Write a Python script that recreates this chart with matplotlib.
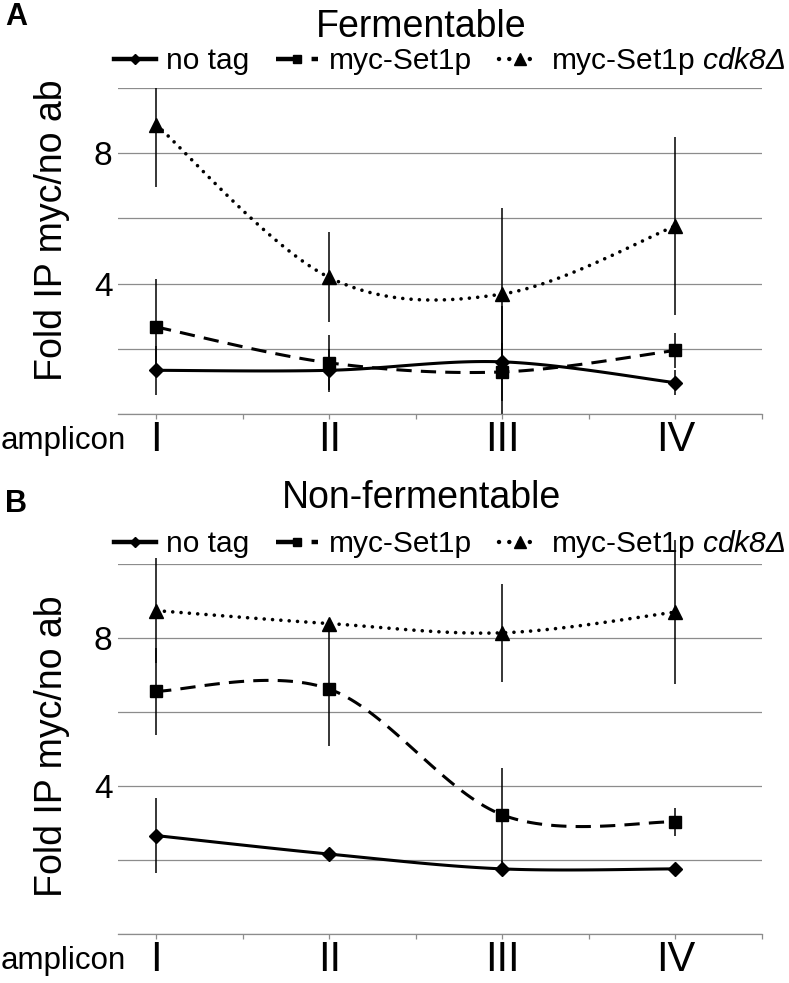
import numpy as np
import matplotlib
matplotlib.use('Agg')
import matplotlib.pyplot as plt
from matplotlib.lines import Line2D

# ---- data ----
amplicons = ['I', 'II', 'III', 'IV']

# A: fermentable
notag_A = [1.34, 1.34, 1.60, 0.96]
notag_A_err = [0.76, 0.66, 1.70, 0.38]
myc_A = [2.67, 1.57, 1.29, 1.95]
myc_A_err = [1.46, 0.84, 0.90, 0.53]
cdk8_A = [8.88, 4.19, 3.68, 5.77]
cdk8_A_err = [1.91, 1.38, 2.65, 2.72]

# B: non-fermentable
notag_B = [2.66, 2.16, 1.76, 1.76]
notag_B_err = [1.02, 0.08, 0.20, 0.05]
myc_B = [6.56, 6.62, 3.22, 3.03]
myc_B_err = [1.17, 1.55, 1.27, 0.38]
cdk8_B = [8.74, 8.39, 8.14, 8.70]
cdk8_B_err = [1.42, 0.10, 1.32, 1.95]

plt.rcParams['font.family'] = ['Liberation Sans', 'DejaVu Sans']
# math part of the legend label is the italic gene name
plt.rcParams['mathtext.fontset'] = 'custom'
plt.rcParams['mathtext.it'] = 'Liberation Sans:italic'
plt.rcParams['mathtext.rm'] = 'Liberation Sans:italic'

W, H = 789, 983
fig = plt.figure(figsize=(W / 100, H / 100), dpi=100)

GRID = '#8c8c8c'
styles = {
    'notag': dict(ls='-', marker='D', ms=7, lw=2.2),
    'myc': dict(ls=(0, (5, 3)), marker='s', ms=8, lw=2.2),
    'cdk8': dict(ls=(0, (0.01, 2.3)), marker='^', ms=10, lw=2.6),
}


def smooth(y, n=40):
    # excel-style smoothed line (bezier through the points)
    pts = np.column_stack([np.arange(len(y)), y]).astype(float)
    out = []
    t = np.linspace(0, 1, n)[:, None]
    for i in range(len(pts) - 1):
        p0 = pts[max(i - 1, 0)]
        p1 = pts[i]
        p2 = pts[i + 1]
        p3 = pts[min(i + 2, len(pts) - 1)]
        c1 = p1 + (p2 - p0) / 6
        c2 = p2 - (p3 - p1) / 6
        seg = (1 - t) ** 3 * p1 + 3 * (1 - t) ** 2 * t * c1 + 3 * (1 - t) * t ** 2 * c2 + t ** 3 * p2
        out.append(seg if i == 0 else seg[1:])
    return np.vstack(out)


def panel(rect, series, clip):
    ax = fig.add_axes(rect)
    x = np.arange(len(amplicons))
    for key, y, err in series:
        st = styles[key]
        ax.errorbar(x, y, yerr=err, fmt='none', ecolor='black', elinewidth=1.1,
                    capsize=0, zorder=2, clip_on=clip)
        s = smooth(y)
        ln, = ax.plot(s[:, 0], s[:, 1], color='black', lw=st['lw'], ls=st['ls'], zorder=3)
        if key == 'cdk8':
            ln.set_dash_capstyle('round')
        ax.plot(x, y, ls='none', marker=st['marker'], ms=st['ms'], color='black', zorder=4,
                clip_on=False)
    ax.set_xlim(-0.22, 3.5)
    ax.set_ylim(0, 10)
    ax.set_yticks([0, 2, 4, 6, 8, 10])
    ax.set_yticklabels(['', '', '4', '', '8', ''], fontsize=24)
    ax.yaxis.grid(True, color=GRID, lw=0.9)
    ax.tick_params(axis='y', length=0, pad=4)
    ax.set_xticks(x)
    ax.set_xticklabels(amplicons, fontsize=30)
    ax.set_xticks(np.arange(0.5, 4, 1), minor=True)
    ax.tick_params(axis='x', which='both', length=3.5, color=GRID, width=0.9, pad=1)
    for s in ['left', 'right', 'top']:
        ax.spines[s].set_visible(False)
    ax.spines['bottom'].set_color(GRID)
    ax.spines['bottom'].set_linewidth(0.9)
    ax.set_axisbelow(True)
    return ax


axA = panel([118 / W, 1 - 414 / H, 644 / W, 326 / H],
            [('notag', notag_A, notag_A_err), ('myc', myc_A, myc_A_err),
             ('cdk8', cdk8_A, cdk8_A_err)], True)
axB = panel([118 / W, 1 - 934 / H, 644 / W, 370 / H],
            [('notag', notag_B, notag_B_err), ('myc', myc_B, myc_B_err),
             ('cdk8', cdk8_B, cdk8_B_err)], False)

labels = ['no tag', 'myc-Set1p', r'myc-Set1p $cdk8\Delta$']


def legend_handles():
    hs = []
    for key in ['notag', 'myc', 'cdk8']:
        st = styles[key]
        h = Line2D([], [], color='black', lw=3.2, ls=st['ls'], marker=st['marker'],
                   ms=st['ms'] * 0.8)
        if key == 'cdk8':
            h.set_dash_capstyle('round')
        hs.append(h)
    return hs


for ytop, title, label, ylab_y, lab_y, leg_y, amp_y in [
        (37, 'Fermentable', 'A', 230, 17, 61, 441),
        (508, 'Non-fermentable', 'B', 746, 504, 544, 961)]:
    fig.text(421 / W, 1 - ytop / H, title, ha='center', va='baseline', fontsize=27)
    fig.text(5 / W, 1 - lab_y / H, label, ha='left', va='center', fontsize=22,
             fontweight='bold')
    fig.text(52 / W, 1 - ylab_y / H, 'Fold IP myc/no ab', rotation=90, ha='center',
             va='center', fontsize=27)
    fig.text(1 / W, 1 - amp_y / H, 'amplicon', ha='left', va='center', fontsize=22.5)
    fig.legend(legend_handles(), labels, loc='center left', ncol=3,
               bbox_to_anchor=(114 / W, 1 - leg_y / H), frameon=False, fontsize=21.5,
               handlelength=1.4, handletextpad=0.35, columnspacing=0.9,
               borderpad=0, borderaxespad=0, numpoints=1)

fig.savefig('out.png', dpi=100)
